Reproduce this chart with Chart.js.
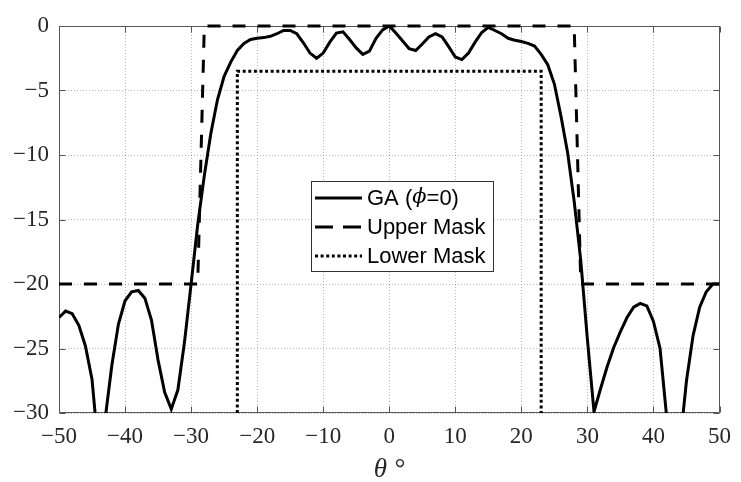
<!DOCTYPE html>
<html>
<head>
<meta charset="utf-8">
<script src="https://cdn.jsdelivr.net/npm/chart.js@4.4.1/dist/chart.umd.min.js"></script>
<style>
  body { margin: 0; background: #fff; }
  canvas { display: block; }
</style>
</head>
<body>
<canvas id="patternChart" width="741" height="482"></canvas>
<script>
// array pattern, gain in dB against angle in degrees
var thetaDeg = [-50, -49, -48, -47, -46, -45, -44, -43, -42, -41,
    -40, -39, -38, -37, -36, -35, -34, -33, -32, -31,
    -30, -29, -28, -27, -26, -25, -24, -23, -22, -21,
    -20, -19, -18, -17, -16, -15, -14, -13, -12, -11,
    -10, -9, -8, -7, -6, -5, -4, -3, -2, -1,
    0, 1, 2, 3, 4, 5, 6, 7, 8, 9,
    10, 11, 12, 13, 14, 15, 16, 17, 18, 19,
    20, 21, 22, 23, 24, 25, 26, 27, 28, 29,
    30, 31, 32, 33, 34, 35, 36, 37, 38, 39,
    40, 41, 42, 43, 44, 45, 46, 47, 48, 49, 50];

var gaGain = [-22.6, -22.1, -22.3, -23.2, -24.8, -27.4, -33.0, -30.4, -26.3, -23.1,
    -21.3, -20.6, -20.5, -21.1, -22.8, -25.9, -28.4, -29.7, -28.2, -24.5,
    -20.0, -15.4, -11.6, -8.3, -5.7, -3.9, -2.8, -1.9, -1.35, -1.05,
    -0.95, -0.9, -0.8, -0.6, -0.35, -0.35, -0.6, -1.3, -2.1, -2.5,
    -2.1, -1.25, -0.55, -0.45, -1.05, -1.7, -2.2, -1.95, -0.95, -0.3,
    0, -0.55, -1.15, -1.75, -1.9, -1.4, -0.85, -0.6, -0.85, -1.6,
    -2.4, -2.6, -2.1, -1.25, -0.5, -0.1, -0.35, -0.6, -0.95, -1.1,
    -1.2, -1.35, -1.55, -2.2, -3.0, -4.5, -7.0, -9.8, -13.6, -18.2,
    -24.3, -29.9, -28.1, -26.4, -24.9, -23.7, -22.6, -21.8, -21.5, -21.7,
    -22.9, -25.0, -30.3, -38.0, -32.5, -27.5, -24.0, -21.8, -20.6, -20.0, -20.0];

// mask corners
var upperX = [-50, -29, -28, 28, 29, 50];
var upperY = [-20, -20, 0, 0, -20, -20];
var lowerX = [-23, -23, 23, 23];
var lowerY = [-30, -3.5, -3.5, -30];

var xTicks = { min: -50, max: 50, step: 10 };
var yTicks = { min: -30, max: 0, step: 5 };

function toPoints(xs, ys){
    var pts = [];
    for (var i = 0; i < xs.length; i++){
        pts.push({ x: xs[i], y: ys[i] });
    }
    return pts;
}

function minusLabel(v){
    return v < 0 ? '\u2212' + Math.abs(v) : '' + v;
}

var tickFont = { family: "'Liberation Serif', 'Times New Roman', serif", size: 23 };

// frame with inward ticks on all four sides
var axesBox = {
    id: 'axesBox',
    beforeDatasetsDraw: function(chart){
        var ctx = chart.ctx, a = chart.chartArea;
        var xs = chart.scales.x, ys = chart.scales.y;
        var l = Math.round(a.left) + 0.5, r = Math.round(a.right) - 0.5;
        var t = Math.round(a.top) + 0.5, b = Math.round(a.bottom) - 0.5;
        ctx.save();
        ctx.strokeStyle = '#555';
        ctx.lineWidth = 1;
        ctx.beginPath();
        ctx.moveTo(l, t); ctx.lineTo(r, t); ctx.lineTo(r, b); ctx.lineTo(l, b); ctx.closePath();
        xs.ticks.forEach(function(tk){
            var px = Math.round(xs.getPixelForValue(tk.value)) + 0.5;
            ctx.moveTo(px, b); ctx.lineTo(px, b - 6);
            ctx.moveTo(px, t); ctx.lineTo(px, t + 6);
        });
        ys.ticks.forEach(function(tk){
            var py = Math.round(ys.getPixelForValue(tk.value)) + 0.5;
            ctx.moveTo(l, py); ctx.lineTo(l + 6, py);
            ctx.moveTo(r, py); ctx.lineTo(r - 6, py);
        });
        ctx.stroke();
        ctx.restore();
    }
};

// legend box sitting inside the plot
var boxLegend = {
    id: 'boxLegend',
    afterDatasetsDraw: function(chart){
        var ctx = chart.ctx, a = chart.chartArea;
        var bx = a.left + 252, by = a.top + 155, bw = 182, bh = 90;
        var rowY = [by + 17, by + 46, by + 75];
        var dashes = [[], [18, 10], [3, 2.6]];
        ctx.save();
        ctx.fillStyle = '#fff';
        ctx.fillRect(bx, by, bw, bh);
        ctx.strokeStyle = '#333';
        ctx.lineWidth = 1;
        ctx.strokeRect(Math.round(bx) + 0.5, Math.round(by) + 0.5, bw, bh);

        chart.data.datasets.forEach(function(ds, i){
            var y = rowY[i];
            ctx.strokeStyle = '#000';
            ctx.lineWidth = 3;
            ctx.setLineDash(dashes[i]);
            ctx.beginPath();
            ctx.moveTo(bx + 4, y);
            ctx.lineTo(bx + 51, y);
            ctx.stroke();
            ctx.setLineDash([]);

            // the phi is set in italic serif, the rest in sans
            ctx.fillStyle = '#000';
            ctx.textBaseline = 'middle';
            var x = bx + 56;
            var parts = ds.label.split('\u03d5');
            var sans = "22px 'Liberation Sans', Arial, sans-serif";
            parts.forEach(function(p, k){
                if (k > 0){
                    ctx.font = "italic 21px 'DejaVu Serif', serif";
                    ctx.fillText('\u03d5', x, y);
                    x += ctx.measureText('\u03d5').width;
                }
                ctx.font = sans;
                ctx.fillText(p, x, y + 1);
                x += ctx.measureText(p).width;
            });
        });
        ctx.restore();
    }
};

var ctx = document.getElementById('patternChart');
var patternChart = new Chart(ctx, {
    type: 'line',
    data: {
        datasets: [{
            label: 'GA (\u03d5=0)',
            data: toPoints(thetaDeg, gaGain),
            borderColor: '#000',
            borderWidth: 3,
            pointRadius: 0,
            tension: 0
        }, {
            label: 'Upper Mask',
            data: toPoints(upperX, upperY),
            borderColor: '#000',
            borderWidth: 3,
            borderDash: [13, 12],
            pointRadius: 0,
            clip: 3
        }, {
            label: 'Lower Mask',
            data: toPoints(lowerX, lowerY),
            borderColor: '#000',
            borderWidth: 3,
            borderDash: [3, 2.6],
            pointRadius: 0,
            clip: 3
        }]
    },
    options: {
        responsive: false,
        animation: false,
        layout: { padding: { top: 26, right: 12, left: 0, bottom: 0 } },
        plugins: {
            legend: { display: false },
            tooltip: { enabled: false }
        },
        scales: {
            x: {
                type: 'linear',
                min: xTicks.min,
                max: xTicks.max,
                ticks: {
                    stepSize: xTicks.step,
                    padding: 10,
                    color: '#262626',
                    font: tickFont,
                    maxRotation: 0,
                    callback: minusLabel
                },
                grid: { color: 'rgba(0,0,0,0.28)', lineWidth: 1, drawTicks: false },
                border: { display: false, dash: [1, 2] },
                title: {
                    display: true,
                    text: '\u03b8 \u00b0',
                    color: '#262626',
                    font: { family: "'Liberation Serif', serif", size: 27, style: 'italic', lineHeight: 0.9 },
                    padding: { top: 0, bottom: 0 }
                },
                afterFit: function(scale){ scale.height = 69; }
            },
            y: {
                min: yTicks.min,
                max: yTicks.max,
                ticks: {
                    stepSize: yTicks.step,
                    padding: 10,
                    color: '#262626',
                    font: tickFont,
                    callback: minusLabel
                },
                grid: { color: 'rgba(0,0,0,0.28)', lineWidth: 1, drawTicks: false },
                border: { display: false, dash: [1, 2] },
                afterFit: function(scale){ scale.width = 59; }
            }
        }
    },
    plugins: [axesBox, boxLegend]
});
</script>
</body>
</html>
